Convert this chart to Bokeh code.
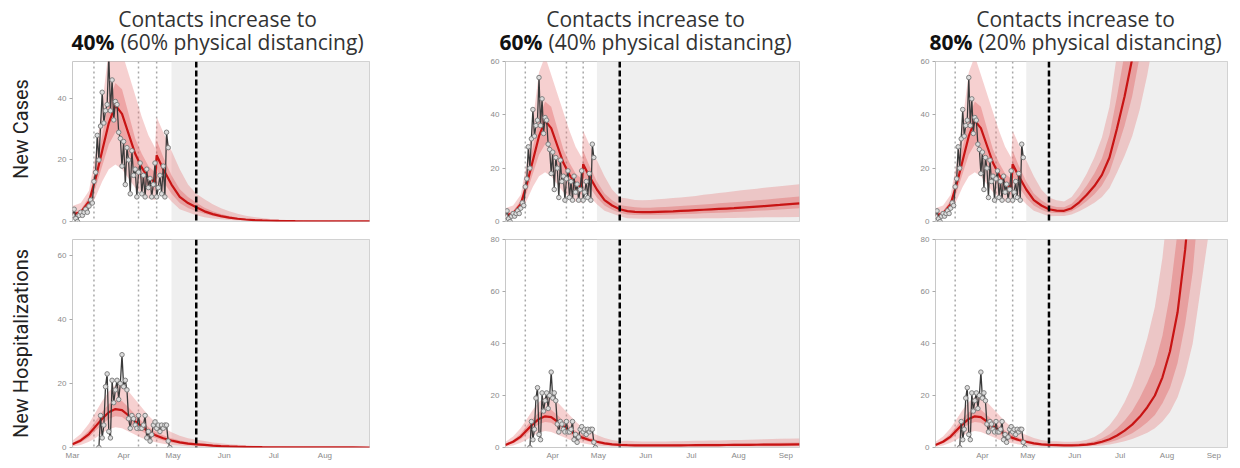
import pandas as pd
from bokeh.plotting import figure
from bokeh.layouts import column, row
from bokeh.models import Range1d, FixedTicker, DatetimeTickFormatter, Span, BoxAnnotation
from bokeh.core.properties import value
from bokeh.embed import file_html
from bokeh.resources import INLINE

START = pd.Timestamp("2020-03-01")

# ---------------- observed data ----------------
case_obs = [2, 4, 1, 0, 2, 3, 2, 3, 4, 3, 5, 7, 6, 13, 16, 28, 20, 31, 42, 32,
            36, 38, 54, 36, 46, 33, 39, 38, 29, 27, 18, 26, 12, 24, 20, 9, 23, 15, 17, 8,
            16, 19, 9, 15, 8, 17, 11, 14, 8, 12, 19, 8, 11, 15, 9, 18, 8, 29, 24]
case_first = "2020-03-01"
hosp_obs = [0, 10, 3, 7, 19, 23, 5, 3, 21, 14, 18, 21, 15, 20, 29, 19, 21, 18, 9, 6,
            10, 9, 7, 6, 10, 6, 6, 7, 10, 3, 5, 2, 4, 7, 8, 6, 7, 5, 7, 6, 7, 7, 2, 0]
hosp_first = "2020-03-17"

# ---------------- model fit (shared by all scenarios) ----------------
fit_days = [0, 5, 10, 14, 18, 22, 26, 30, 34, 38, 42, 46, 50, 51, 55, 60, 65, 70, 75]
cfit_med  = [2.3, 3.0, 6.5, 14, 23, 32, 37.8, 35, 28.5, 22, 17.5, 14.2, 12.8, 21.5, 17, 12, 8, 6, 4.6]
cfit_lo50 = [1.8, 2.4, 5.2, 11, 18, 25, 29, 27, 22, 17, 13.5, 11, 10, 17, 13, 9, 6, 4.4, 3.3]
cfit_hi50 = [3.0, 3.8, 8.0, 17, 28, 39, 45, 43, 35, 27, 22, 18, 16, 26.5, 21, 15, 10.5, 8, 6.2]
cfit_lo95 = [1.0, 1.4, 4.0, 8, 13, 17, 18.5, 17, 14, 11, 9, 7.5, 7, 12, 9.5, 6.5, 4, 3, 2]
cfit_hi95 = [5.0, 6.0, 10, 22, 38, 56, 62, 55, 48, 41, 34, 28, 24, 34, 29, 23, 17, 12, 9]
hfit_med  = [1.0, 2.2, 4.2, 6.6, 9.0, 11, 12, 11.7, 10, 8.2, 6.5, 5, 3.9, 3.7, 2.9, 2.2, 1.6, 1.2, 1.0]
hfit_lo50 = [0.7, 1.6, 3.2, 5.2, 7.2, 9, 9.8, 9.5, 8, 6.5, 5.1, 3.9, 3.0, 2.8, 2.2, 1.6, 1.2, 0.9, 0.7]
hfit_hi50 = [1.4, 2.9, 5.4, 8.3, 11.2, 13.6, 14.8, 14.5, 12.5, 10.3, 8.2, 6.4, 5, 4.8, 3.8, 2.9, 2.2, 1.7, 1.4]
hfit_lo95 = [0.3, 0.8, 1.8, 3, 4.5, 5.8, 6.3, 6, 5, 4, 3, 2.3, 1.7, 1.6, 1.2, 0.8, 0.6, 0.4, 0.3]
hfit_hi95 = [2.2, 4.2, 7.5, 11, 14.5, 17.5, 19.5, 19.5, 17.5, 15, 12.5, 10, 8, 7.6, 6.2, 4.8, 3.7, 2.9, 2.4]

# ---------------- projections ----------------
proj_days = [80, 85, 90, 95, 100, 105, 110, 115, 120, 125, 130, 135, 140, 145, 150, 155, 160, 165, 170, 180, 193]

# 40% contacts
c40_med  = [3.3, 2.4, 1.75, 1.25, 0.9, 0.65, 0.47, 0.34, 0.25, 0.18, 0.13, 0.09, 0.07, 0.05, 0.04, 0.03, 0.02, 0.015, 0.01, 0.01, 0]
c40_lo50 = [2.5, 1.8, 1.3, 0.9, 0.65, 0.46, 0.33, 0.24, 0.17, 0.12, 0.09, 0.06, 0.045, 0.03, 0.02, 0.015, 0.01, 0.01, 0.005, 0, 0]
c40_hi50 = [4.5, 3.3, 2.4, 1.75, 1.27, 0.93, 0.68, 0.5, 0.37, 0.27, 0.2, 0.14, 0.1, 0.08, 0.06, 0.045, 0.03, 0.025, 0.02, 0.01, 0.01]
c40_lo95 = [1.4, 1.0, 0.7, 0.5, 0.35, 0.25, 0.17, 0.12, 0.08, 0.06, 0.04, 0.03, 0.02, 0.01, 0.01, 0, 0, 0, 0, 0, 0]
c40_hi95 = [7.2, 5.6, 4.3, 3.3, 2.5, 1.9, 1.45, 1.1, 0.85, 0.65, 0.5, 0.38, 0.29, 0.22, 0.17, 0.13, 0.1, 0.08, 0.06, 0.04, 0.02]
h40_med  = [0.8, 0.6, 0.45, 0.35, 0.26, 0.2, 0.15, 0.11, 0.08, 0.06, 0.05, 0.04, 0.03, 0.02, 0.02, 0.01, 0.01, 0.01, 0.01, 0, 0]
h40_lo50 = [0.55, 0.42, 0.31, 0.24, 0.18, 0.13, 0.1, 0.07, 0.05, 0.04, 0.03, 0.02, 0.02, 0.01, 0.01, 0.01, 0, 0, 0, 0, 0]
h40_hi50 = [1.15, 0.88, 0.67, 0.52, 0.4, 0.3, 0.23, 0.17, 0.13, 0.1, 0.08, 0.06, 0.05, 0.04, 0.03, 0.02, 0.02, 0.01, 0.01, 0.01, 0]
h40_lo95 = [0.25, 0.18, 0.13, 0.1, 0.07, 0.05, 0.04, 0.03, 0.02, 0.01, 0.01, 0.01, 0, 0, 0, 0, 0, 0, 0, 0, 0]
h40_hi95 = [2.0, 1.6, 1.3, 1.05, 0.85, 0.68, 0.55, 0.44, 0.35, 0.28, 0.22, 0.18, 0.14, 0.11, 0.09, 0.07, 0.05, 0.04, 0.03, 0.02, 0.01]

# 60% contacts
c60_med  = [3.9, 3.6, 3.5, 3.5, 3.6, 3.7, 3.8, 3.95, 4.1, 4.25, 4.4, 4.55, 4.7, 4.85, 5.0, 5.2, 5.4, 5.6, 5.8, 6.2, 6.8]
c60_lo50 = [2.6, 2.45, 2.4, 2.4, 2.45, 2.55, 2.65, 2.75, 2.85, 2.95, 3.05, 3.15, 3.25, 3.4, 3.55, 3.7, 3.85, 4.0, 4.15, 4.5, 5.0]
c60_hi50 = [5.7, 5.3, 5.2, 5.2, 5.3, 5.45, 5.6, 5.8, 6.0, 6.2, 6.4, 6.6, 6.8, 7.0, 7.2, 7.45, 7.7, 7.95, 8.2, 8.7, 9.4]
c60_lo95 = [1.2, 1.1, 1.05, 1.0, 1.0, 1.0, 1.05, 1.1, 1.1, 1.15, 1.2, 1.2, 1.25, 1.3, 1.35, 1.4, 1.45, 1.5, 1.55, 1.6, 1.7]
c60_hi95 = [8.6, 8.1, 8.0, 8.1, 8.3, 8.5, 8.8, 9.0, 9.3, 9.6, 10.0, 10.3, 10.7, 11.0, 11.3, 11.7, 12.0, 12.3, 12.7, 13.2, 14.0]
h60_med  = [0.9, 0.85, 0.8, 0.8, 0.8, 0.8, 0.82, 0.84, 0.86, 0.88, 0.9, 0.92, 0.94, 0.96, 0.98, 1.0, 1.03, 1.06, 1.09, 1.14, 1.2]
h60_lo50 = [0.55, 0.5, 0.48, 0.47, 0.47, 0.47, 0.48, 0.49, 0.5, 0.52, 0.53, 0.54, 0.55, 0.57, 0.58, 0.6, 0.62, 0.64, 0.66, 0.7, 0.74]
h60_hi50 = [1.4, 1.3, 1.25, 1.25, 1.25, 1.26, 1.28, 1.31, 1.34, 1.37, 1.4, 1.43, 1.46, 1.5, 1.53, 1.56, 1.6, 1.65, 1.7, 1.78, 1.88]
h60_lo95 = [0.25, 0.22, 0.2, 0.2, 0.2, 0.2, 0.2, 0.21, 0.22, 0.22, 0.23, 0.24, 0.24, 0.25, 0.26, 0.27, 0.28, 0.29, 0.3, 0.32, 0.34]
h60_hi95 = [2.6, 2.4, 2.3, 2.3, 2.3, 2.35, 2.4, 2.45, 2.5, 2.55, 2.6, 2.65, 2.7, 2.8, 2.85, 2.9, 3.0, 3.1, 3.2, 3.35, 3.5]

# 80% contacts
c80_med  = [4.1, 4.0, 5.0, 7.2, 10, 13.3, 17.5, 24, 35, 47, 61, 80, 104, 135, 175, 225, 290, 370, 480, 790, 1500]
c80_lo50 = [3.2, 3.1, 3.8, 5.5, 7.7, 10.2, 13.5, 18.5, 27, 36, 47, 62, 80, 104, 135, 173, 223, 285, 370, 608, 1150]
c80_hi50 = [5.4, 5.3, 6.7, 9.7, 13.5, 18, 23.6, 32.4, 47, 63, 82, 108, 140, 182, 236, 304, 392, 500, 648, 1066, 2025]
c80_lo95 = [2.1, 2.1, 2.6, 3.8, 5.3, 7, 9.2, 12.6, 18.4, 24.7, 32, 42, 55, 71, 92, 118, 153, 195, 253, 416, 790]
c80_hi95 = [8, 7.5, 9.2, 13, 18, 24, 31.5, 43, 63, 85, 110, 144, 187, 243, 315, 405, 522, 666, 864, 1422, 2700]
h80_med  = [0.9, 0.8, 0.8, 0.9, 1.1, 1.5, 2.2, 3.2, 4.6, 6.5, 8.8, 11.8, 15.5, 20, 27, 37, 52, 76, 108, 215, 520]
h80_lo50 = [0.55, 0.5, 0.5, 0.55, 0.7, 0.95, 1.4, 2, 2.9, 4.1, 5.5, 7.4, 9.7, 12.5, 17, 23, 32.5, 47.5, 67.5, 134, 325]
h80_hi50 = [1.4, 1.3, 1.3, 1.5, 1.8, 2.4, 3.5, 5.1, 7.4, 10.4, 14, 19, 25, 32, 43, 59, 83, 122, 173, 344, 830]
h80_lo95 = [0.3, 0.3, 0.3, 0.33, 0.4, 0.55, 0.8, 1.2, 1.7, 2.4, 3.3, 4.4, 5.7, 7.4, 10, 13.7, 19.3, 28, 40, 80, 193]
h80_hi95 = [2.4, 2.2, 2.2, 2.4, 3, 4, 5.9, 8.6, 12.4, 17.5, 23.8, 32, 42, 54, 73, 100, 140, 205, 292, 580, 1400]

# ---------------- events and labels ----------------
event_dates = ["2020-03-14", "2020-04-10", "2020-04-21"]
shade_start = "2020-04-30"
proj_start = "2020-05-15"
titles_line1 = ["Contacts increase to"] * 3
titles_bold = ["40%", "60%", "80%"]
titles_rest = ["(60% physical distancing)", "(40% physical distancing)", "(20% physical distancing)"]
row_labels = ["New Cases", "New Hospitalizations"]
month_ticks_a = ["2020-03-01", "2020-04-01", "2020-05-01", "2020-06-01", "2020-07-01", "2020-08-01"]
month_ticks_b = ["2020-04-01", "2020-05-01", "2020-06-01", "2020-07-01", "2020-08-01", "2020-09-01"]


def ms(d):
    return pd.Timestamp(d).value / 1e6


def to_dates(days):
    return START + pd.to_timedelta(days, unit="D")


def panel(width, height, bl, br, bt, bb, x_end, y_max, y_ticks, kind,
          proj, x_ticks=None, ylabel=None):
    p = figure(width=width, height=height, output_backend="svg", toolbar_location=None,
               x_axis_type="datetime",
               x_axis_location="below" if x_ticks else None,
               x_range=Range1d(ms("2020-03-01"), ms(x_end)),
               y_range=Range1d(0, y_max),
               min_border_left=bl, min_border_right=br,
               min_border_top=bt, min_border_bottom=bb)
    p.background_fill_color = "white"
    p.border_fill_color = "white"
    p.outline_line_color = "#c8c8c8"
    p.outline_line_width = 1
    p.grid.grid_line_color = None

    p.add_layout(BoxAnnotation(left=ms(shade_start), fill_color="#efefef",
                               fill_alpha=1.0, line_color=None, level="underlay"))
    for d in event_dates:
        p.add_layout(Span(location=ms(d), dimension="height", line_color="#a8a8a8",
                          line_width=1.5, line_dash="2 3", level="underlay"))

    if kind == "c":
        fit = (cfit_med, cfit_lo50, cfit_hi50, cfit_lo95, cfit_hi95)
    else:
        fit = (hfit_med, hfit_lo50, hfit_hi50, hfit_lo95, hfit_hi95)
    xs = to_dates(fit_days + proj_days)
    med, lo50, hi50, lo95, hi95 = [f + q for f, q in zip(fit, proj)]

    p.varea(x=xs, y1=lo95, y2=hi95, fill_color="#e67c7c", fill_alpha=0.36)
    p.varea(x=xs, y1=lo50, y2=hi50, fill_color="#dd4f4f", fill_alpha=0.33)
    p.line(xs, med, line_color="#c81414", line_width=2.2)

    if kind == "c":
        ox = pd.date_range(case_first, periods=len(case_obs), freq="D")
        oy = case_obs
    else:
        ox = pd.date_range(hosp_first, periods=len(hosp_obs), freq="D")
        oy = hosp_obs
    p.line(ox, oy, line_color="#3a3a3a", line_width=1.3)
    p.scatter(ox, oy, marker="circle", size=4.5, line_color="#808080",
              fill_color="#dcdcdc", line_width=1)

    p.add_layout(Span(location=ms(proj_start), dimension="height", line_color="black",
                      line_width=2.5, line_dash="6 3"))

    ya = p.yaxis[0]
    ya.ticker = FixedTicker(ticks=y_ticks)
    ya.axis_line_color = None
    ya.major_tick_line_color = "#aaaaaa"
    ya.major_tick_out = 3
    ya.major_tick_in = 0
    ya.minor_tick_line_color = None
    ya.major_label_text_font = "Liberation Sans"
    ya.major_label_text_font_size = "8px"
    ya.major_label_text_color = "#8a8a8a"
    ya.major_label_standoff = 3
    if ylabel:
        ya.axis_label = ylabel
        ya.axis_label_text_font = "Roboto"
        ya.axis_label_text_font_size = "20px"
        ya.axis_label_text_font_style = "normal"
        ya.axis_label_text_color = "#222222"
        ya.axis_label_standoff = 22
    if x_ticks:
        xa = p.xaxis[0]
        xa.ticker = FixedTicker(ticks=[ms(t) for t in x_ticks])
        xa.formatter = DatetimeTickFormatter(days="%b", months="%b", years="%b")
        xa.axis_line_color = None
        xa.major_tick_line_color = None
        xa.major_tick_out = 0
        xa.major_tick_in = 0
        xa.minor_tick_line_color = None
        xa.major_label_text_font = "Liberation Sans"
        xa.major_label_text_font_size = "8px"
        xa.major_label_text_color = "#8a8a8a"
        xa.major_label_standoff = 3
    return p


# ---------------- titles ----------------
tw, th = 1234, 56
tfig = figure(width=tw, height=th, output_backend="svg", toolbar_location=None,
              x_range=Range1d(0, tw), y_range=Range1d(0, th),
              x_axis_location=None, y_axis_location=None, min_border=0)
tfig.outline_line_color = None
tfig.grid.grid_line_color = None
centers = [217, 645, 1075]
tfig.text(x=centers, y=[th - 18] * 3, text=titles_line1, text_font=value("Open Sans"),
          text_font_size="21px", text_align="center", text_baseline="middle",
          text_color="#333333")
tfig.text(x=[c - 103 for c in centers], y=[th - 41] * 3, text=titles_bold,
          text_font=value("Open Sans"), text_font_style="bold",
          text_font_size="21px", text_align="right", text_baseline="middle",
          text_color="#111111")
tfig.text(x=[c - 97 for c in centers], y=[th - 41] * 3, text=titles_rest,
          text_font=value("Open Sans"), text_font_size="21px",
          text_align="left", text_baseline="middle", text_color="#333333")

# ---------------- panels ----------------
TOP_H, BOT_H = 172, 234
pad = "\u00a0" * 5
top = row(
    panel(440, TOP_H, 72, 71, 5, 7, "2020-08-28", 52, [0, 20, 40], "c",
          (c40_med, c40_lo50, c40_hi50, c40_lo95, c40_hi95), ylabel=pad + row_labels[0]),
    panel(430, TOP_H, 65, 71, 5, 7, "2020-09-10", 60, [0, 20, 40, 60], "c",
          (c60_med, c60_lo50, c60_hi50, c60_lo95, c60_hi95)),
    panel(364, TOP_H, 65, 7, 5, 7, "2020-09-10", 60, [0, 20, 40, 60], "c",
          (c80_med, c80_lo50, c80_hi50, c80_lo95, c80_hi95)),
)
bottom = row(
    panel(440, BOT_H, 72, 71, 11, 12, "2020-08-28", 65, [0, 20, 40, 60], "h",
          (h40_med, h40_lo50, h40_hi50, h40_lo95, h40_hi95),
          x_ticks=month_ticks_a, ylabel=row_labels[1]),
    panel(430, BOT_H, 65, 71, 11, 12, "2020-09-10", 80, [0, 20, 40, 60, 80], "h",
          (h60_med, h60_lo50, h60_hi50, h60_lo95, h60_hi95), x_ticks=month_ticks_b),
    panel(364, BOT_H, 65, 7, 11, 12, "2020-09-10", 80, [0, 20, 40, 60, 80], "h",
          (h80_med, h80_lo50, h80_hi50, h80_lo95, h80_hi95), x_ticks=month_ticks_b),
)

layout = column(tfig, top, bottom)
open("out.html", "w").write(file_html(layout, INLINE))
